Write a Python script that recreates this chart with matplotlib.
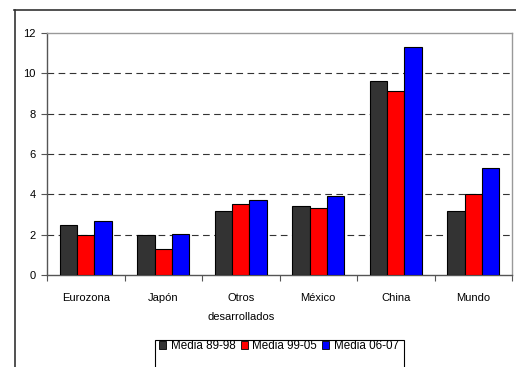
import matplotlib.pyplot as plt
import matplotlib.patches as mpatches
from matplotlib.lines import Line2D
import numpy as np

plt.rcParams['font.family'] = ['Liberation Sans', 'DejaVu Sans']

# data
categorias = ['Eurozona', 'Japón', 'Otros\ndesarrollados', 'México', 'China', 'Mundo']
media_89_98 = [2.5, 2.0, 3.15, 3.4, 9.6, 3.15]
media_99_05 = [2.0, 1.3, 3.5, 3.3, 9.1, 4.0]
media_06_07 = [2.7, 2.05, 3.7, 3.9, 11.3, 5.3]
series = ['Media 89-98', 'Media 99-05', 'Media 06-07']
colores = ['#333333', '#ff0000', '#0000ff']

W, H = 516, 367
fig = plt.figure(figsize=(W / 100, H / 100), dpi=100)

# plot area in pixels: left 47, right 512, top 33, bottom 275
ax = fig.add_axes([47 / W, (H - 275) / H, (512 - 47) / W, (275 - 33) / H])

x = np.arange(len(categorias))
w = 0.222
for i, (vals, col) in enumerate(zip([media_89_98, media_99_05, media_06_07], colores)):
    ax.bar(x + (i - 1) * w, vals, width=w, color=col, edgecolor='black',
           linewidth=0.8, zorder=3)

ax.set_xlim(-0.5, len(categorias) - 0.5)
ax.set_ylim(0, 12)
ax.set_yticks(range(0, 13, 2))
ax.tick_params(axis='y', labelsize=8, length=4, width=0.8, pad=4, color='#555555')

ax.set_xticks(x)
ax.set_xticklabels(categorias, fontsize=8, linespacing=2.1)
ax.tick_params(axis='x', which='major', length=0, pad=13)
ax.set_xticks(np.arange(-0.5, len(categorias)), minor=True)
ax.tick_params(axis='x', which='minor', length=4, width=0.8, color='#555555')

for yv in range(2, 12, 2):
    ax.axhline(yv, color='#333333', linestyle=(0, (6, 4)), linewidth=0.8, zorder=1)

for s in ['top', 'right']:
    ax.spines[s].set_color('#999999')
    ax.spines[s].set_linewidth(1)
for s in ['left', 'bottom']:
    ax.spines[s].set_color('#555555')
    ax.spines[s].set_linewidth(1)

# outer chart frame (cut off at the image edges)
fig.add_artist(Line2D([14 / W, 1], [1 - 9.5 / H, 1 - 9.5 / H], transform=fig.transFigure,
                      color='#333333', linewidth=1.2))
fig.add_artist(Line2D([14.5 / W, 14.5 / W], [0, 1 - 9.5 / H], transform=fig.transFigure,
                      color='#333333', linewidth=1.2))

# title, mostly outside the image
fig.text(335 / W, 1 + 4 / H, '(%)', ha='center', va='baseline', fontsize=11, fontweight='bold')

# legend box, bottom cut off
fig.add_artist(mpatches.Rectangle((155 / W, -0.05), (404 - 155) / W, 0.05 + (H - 340) / H,
                                  transform=fig.transFigure, facecolor='white',
                                  edgecolor='black', linewidth=0.8))
handles = [mpatches.Patch(facecolor=c, edgecolor='black', linewidth=0.6) for c in colores]
leg = fig.legend(handles, series, loc='center', bbox_to_anchor=(279 / W, 1 - 346 / H),
                 ncol=3, frameon=False, fontsize=8.4, handlelength=0.6, handleheight=0.6,
                 handletextpad=0.4, columnspacing=0.45, borderaxespad=0, borderpad=0)

fig.savefig('out.png', dpi=100)
